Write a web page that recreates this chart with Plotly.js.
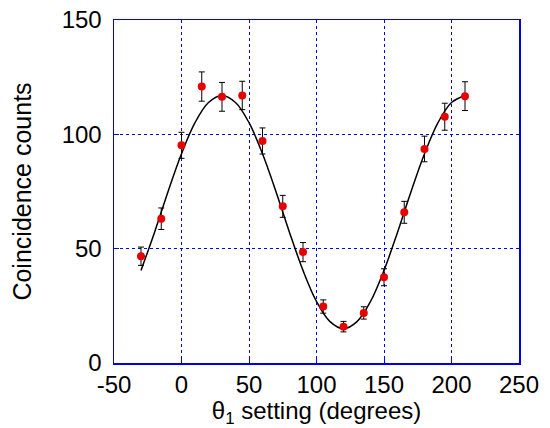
<!DOCTYPE html>
<html>
<head>
<meta charset="utf-8">
<script src="https://cdn.plot.ly/plotly-3.0.1.min.js"></script>
<style>html,body{margin:0;padding:0;background:#fff;}#chart{width:550px;height:428px;}</style>
</head>
<body>
<div id="chart"></div>
<script>
// Measured data (theta1 setting in degrees, coincidence counts, error)
const angles = [-30, -15, 0, 15, 30, 45, 60, 75, 90, 105, 120, 135, 150, 165, 180, 195, 210];
const counts = [46.7, 63.1, 95.2, 120.9, 116.4, 117, 97.1, 68.5, 48.5, 24.7, 15.9, 21.9, 37.5, 65.9, 93.6, 107.7, 116.7];
const errors = [4.0, 4.7, 5.7, 6.4, 6.3, 6.2, 5.7, 4.8, 4.2, 2.9, 2.3, 2.7, 3.7, 4.8, 5.6, 5.9, 6.3];

// Fitted curve
const fitAngles = [-30, -20, -10, 0, 10, 20, 30, 40, 50, 60, 70, 80, 90, 100, 110, 120, 130, 140, 150, 160, 170, 180, 190, 200, 210];
const fitCounts = [40.5, 57.1, 74.9, 91.5, 105.1, 113.9, 117, 113.9, 105.1, 91.5, 74.9, 57.1, 40.5, 26.9, 18.1, 15, 18.1, 26.9, 40.5, 57.1, 74.9, 91.5, 105.1, 113.9, 117];

const xTicks = [-50, 0, 50, 100, 150, 200, 250];
const yTicks = [0, 50, 100, 150];

const font = 'Liberation Sans, Arial, Helvetica, sans-serif';
const blue = 'rgb(0,0,230)';

const traces = [
  {
    x: fitAngles, y: fitCounts, type: 'scatter', mode: 'lines',
    line: {color: 'black', width: 1.5, shape: 'spline'},
    hoverinfo: 'skip', showlegend: false
  },
  {
    x: angles, y: counts, type: 'scatter', mode: 'markers',
    marker: {color: 'rgb(230,0,0)', size: 8},
    error_y: {type: 'data', array: errors, visible: true, color: 'black', thickness: 1, width: 3},
    showlegend: false
  }
];

const layout = {
  width: 550, height: 428,
  margin: {l: 114, r: 31, t: 20, b: 65},
  paper_bgcolor: 'white', plot_bgcolor: 'white',
  font: {family: font, color: 'black'},
  showlegend: false,
  xaxis: {
    range: [-50, 250], tickvals: xTicks, ticktext: xTicks.map(String),
    showline: true, linecolor: blue, linewidth: 1.5, mirror: true,
    ticks: 'inside', ticklen: 5, tickcolor: blue,
    showgrid: true, gridcolor: blue, griddash: 'dot', gridwidth: 1,
    zeroline: false,
    tickfont: {family: font, size: 24, color: 'black'},
    ticklabelstandoff: 0,
    title: {text: 'θ<sub>1</sub> setting (degrees)', font: {family: font, size: 24, color: 'black'}, standoff: 9}
  },
  yaxis: {
    range: [0, 150], tickvals: yTicks, ticktext: yTicks.map(String),
    showline: true, linecolor: blue, linewidth: 1.5, mirror: true,
    ticks: 'inside', ticklen: 5, tickcolor: blue,
    showgrid: true, gridcolor: blue, griddash: 'dot', gridwidth: 1,
    zeroline: false,
    tickfont: {family: font, size: 24, color: 'black'},
    ticklabelstandoff: 6,
    title: {text: 'Coincidence counts', font: {family: font, size: 25, color: 'black'}, standoff: 23}
  }
};

Plotly.newPlot('chart', traces, layout, {displayModeBar: false, staticPlot: true});
</script>
</body>
</html>
